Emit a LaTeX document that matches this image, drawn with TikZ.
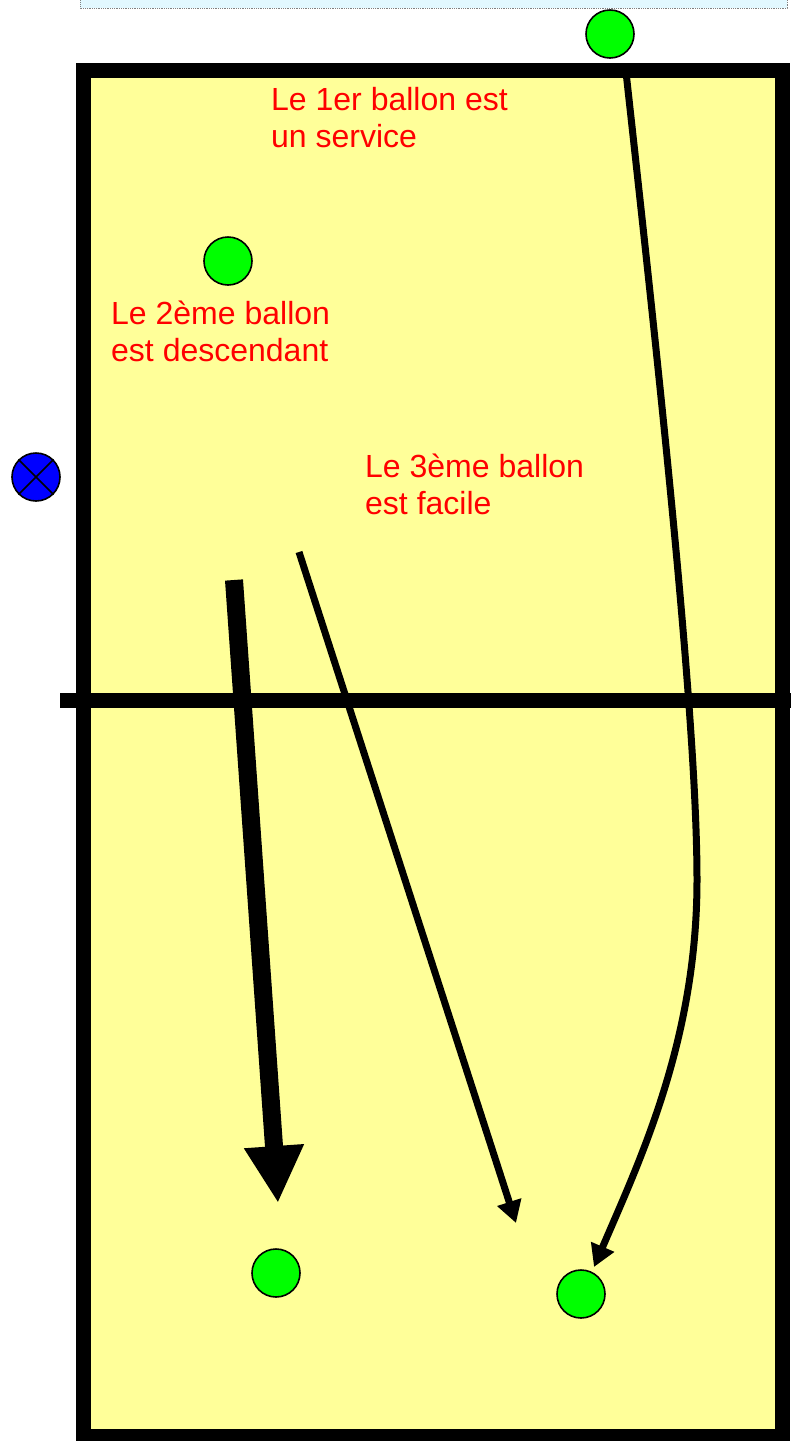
\documentclass[tikz,border=0pt]{standalone}
\usepackage{fontspec}
\setmainfont{Liberation Sans}
\usetikzlibrary{arrows.meta}
\definecolor{courtyellow}{RGB}{255,255,153}
\definecolor{ballgreen}{RGB}{0,255,0}
\definecolor{playerblue}{RGB}{0,0,255}
\definecolor{paleblue}{RGB}{226,248,255}

\begin{document}
\begin{tikzpicture}[x=1pt, y=-1pt,
    ball/.style={circle, draw, line width=1.6pt, fill=ballgreen, minimum size=48pt, inner sep=0pt},
    player/.style={circle, draw, line width=1.6pt, fill=playerblue, minimum size=48pt, inner sep=0pt},
    note/.style={text=red, font=\fontsize{32}{37}\selectfont, align=left, anchor=north west, inner sep=0pt},
    shot/.style={line width=7pt, -{Triangle[length=22pt, width=24pt]}}]
    \useasboundingbox (0, 0) rectangle (791, 1441);
    \begin{scope}
        \clip (0, 0) rectangle (791, 1441);
        % strip at the top
        \draw[densely dotted, gray, line width=0.8pt, fill=paleblue] (80, -5) rectangle (787, 8);
        % court and net
        \draw[line width=15pt, fill=courtyellow] (83.5, 70) rectangle (782.5, 1436);
        \draw[line width=15.6pt] (60, 700.5) -- (800, 700.5);
    \end{scope}

    % balls and player
    \node[ball] (serve) at (610, 34) {};
    \node[ball] (second) at (228, 261) {};
    \node[ball] (leftland) at (276, 1273) {};
    \node[ball] (rightland) at (581, 1294) {};
    \node[player] (setter) at (36, 477) {};
    \draw[line width=1.6pt] (setter.north west) -- (setter.south east);
    \draw[line width=1.6pt] (setter.north east) -- (setter.south west);

    % texts
    \node[note] (first) at (271, 87) {Le 1er ballon est\\un service};
    \node[note] (down) at (111, 301) {Le 2ème ballon\\est descendant};
    \node[note] (easy) at (365, 454) {Le 3ème ballon\\est facile};

    % trajectories
    \coordinate (thickstart) at (234, 580);
    \coordinate (thickend) at (278, 1203);
    \coordinate (easystart) at (299, 552);
    \coordinate (easyend) at (516, 1223);
    \coordinate (servestart) at (626, 72);
    \coordinate (servebend) at (697, 880);
    \coordinate (serveend) at (594, 1267);
    \draw[line width=18pt, -{Triangle[length=57pt, width=56pt]}] (thickstart) -- (thickend);
    \draw[shot] (easystart) -- (easyend);
    \draw[shot] (servestart) .. controls (660, 380) and (697, 720) .. (servebend)
        .. controls (697, 1040) and (640, 1160) .. (serveend);
\end{tikzpicture}
\end{document}
